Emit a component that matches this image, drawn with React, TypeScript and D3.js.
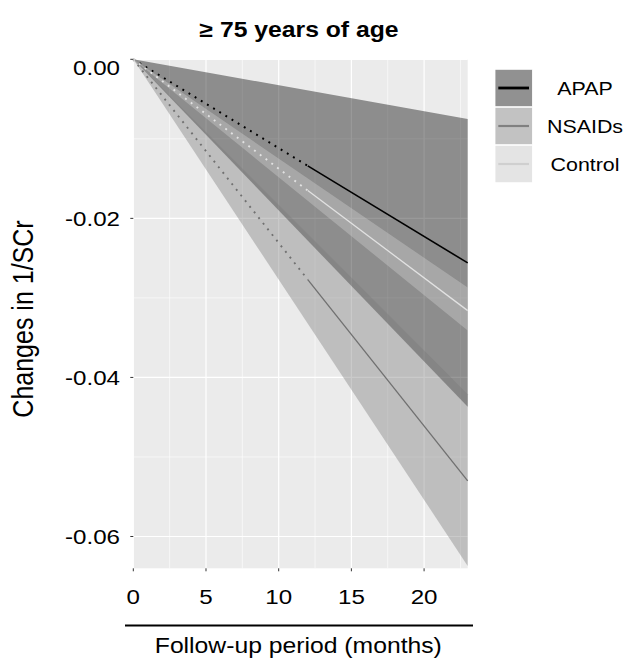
import React, { useRef, useEffect } from 'react'
import * as d3 from 'd3'

// fitted lines (months -> change in 1/SCr); dotted before month 12, solid after
const lineMonths = [0, 12, 23]
const apapMean = [0, -0.0134, -0.0256]
const nsaidMean = [0, -0.0277, -0.053]
const controlMean = [0, -0.0165, -0.0316]

// confidence bands
const bandMonths = [0, 23]
const apapLower = [0, -0.0437]
const apapUpper = [0, -0.0075]
const nsaidLower = [0, -0.0637]
const nsaidUpper = [0, -0.0421]
const controlLower = [0, -0.0341]
const controlUpper = [0, -0.0287]

const groups = ['APAP', 'NSAIDs', 'Control']
const xTicks = [0, 5, 10, 15, 20]
const xMinor = [2.5, 7.5, 12.5, 17.5, 22.5]
const yTicks = [0, -0.02, -0.04, -0.06]
const yMinor = [-0.01, -0.03, -0.05]

const W = 629
const H = 660
const FONT = '"Liberation Sans", Arial, sans-serif'
const STRETCH = 1.15

export default function App() {
  const ref = useRef<SVGSVGElement>(null)

  useEffect(() => {
    draw()
  }, [])

  const draw = () => {
    const svg = d3.select(ref.current)
    svg.selectAll('*').remove()

    const x = d3.scaleLinear().domain([0, 23]).range([133.3, 467.7])
    const y = d3.scaleLinear().domain([-0.064, 0]).range([568.3, 59.3])

    const styles = {
      APAP: { band: 'rgba(0,0,0,0.4)', line: '#000000', lw: 1.6, keyLw: 2.8, key: '#000' },
      NSAIDs: { band: 'rgba(122,122,122,0.4)', line: '#707070', lw: 1.3, keyLw: 2.2, key: '#808080' },
      Control: { band: 'rgba(207,207,207,0.4)', line: '#e2e2e2', lw: 1.3, keyLw: 2.2, key: '#cfcfcf' },
    }

    // text is a bit wider than tall in the original, so stretch it
    const label = (g, tx, ty, str, size, anchor, weight = 'normal', rot = 0) => {
      return g
        .append('g')
        .attr(
          'transform',
          rot
            ? `translate(${tx},${ty}) rotate(${rot}) scale(1,${STRETCH})`
            : `translate(${tx},${ty}) scale(${STRETCH},1)`
        )
        .append('text')
        .attr('font-family', FONT)
        .attr('font-size', size)
        .attr('font-weight', weight)
        .attr('text-anchor', anchor)
        .attr('fill', '#000')
        .text(str)
    }

    // panel
    svg
      .append('rect')
      .attr('x', x(0))
      .attr('y', y(0))
      .attr('width', x(23) - x(0))
      .attr('height', y(-0.064) - y(0))
      .attr('fill', '#ebebeb')

    const grid = svg.append('g')
    const vLines = (vals, w) =>
      grid
        .append('g')
        .selectAll('line')
        .data(vals)
        .join('line')
        .attr('x1', (d) => x(d))
        .attr('x2', (d) => x(d))
        .attr('y1', y(0))
        .attr('y2', y(-0.064))
        .attr('stroke', '#fff')
        .attr('stroke-width', w)
    const hLines = (vals, w) =>
      grid
        .append('g')
        .selectAll('line')
        .data(vals)
        .join('line')
        .attr('x1', x(0))
        .attr('x2', x(23))
        .attr('y1', (d) => y(d))
        .attr('y2', (d) => y(d))
        .attr('stroke', '#fff')
        .attr('stroke-width', w)
    vLines(xMinor, 0.6)
    hLines(yMinor, 0.6)
    vLines(xTicks, 1.2)
    hLines(yTicks, 1.2)

    // bands
    const area = d3
      .area()
      .x((d) => x(d[0]))
      .y0((d) => y(d[1]))
      .y1((d) => y(d[2]))
    const bands = [
      ['APAP', apapLower, apapUpper],
      ['NSAIDs', nsaidLower, nsaidUpper],
      ['Control', controlLower, controlUpper],
    ]
    bands.forEach(([name, lo, hi]) => {
      const pts = bandMonths.map((m, i) => [m, lo[i], hi[i]])
      svg.append('path').attr('d', area(pts)).attr('fill', styles[name].band)
    })

    // lines
    const line = d3
      .line()
      .x((d) => x(d[0]))
      .y((d) => y(d[1]))
    const means = [
      ['APAP', apapMean],
      ['NSAIDs', nsaidMean],
      ['Control', controlMean],
    ]
    means.forEach(([name, vals]) => {
      const pts = lineMonths.map((m, i) => [m, vals[i]])
      svg
        .append('path')
        .attr('d', line(pts.slice(0, 2)))
        .attr('fill', 'none')
        .attr('stroke', styles[name].line)
        .attr('stroke-width', 1.9)
        .attr('stroke-dasharray', '1.9,5.3')
      svg
        .append('path')
        .attr('d', line(pts.slice(1)))
        .attr('fill', 'none')
        .attr('stroke', styles[name].line)
        .attr('stroke-width', styles[name].lw)
    })

    // axis ticks
    svg
      .append('g')
      .selectAll('line')
      .data(yTicks)
      .join('line')
      .attr('x1', x(0) - 3)
      .attr('x2', x(0))
      .attr('y1', (d) => y(d))
      .attr('y2', (d) => y(d))
      .attr('stroke', '#333')
      .attr('stroke-width', 1)
    svg
      .append('g')
      .selectAll('line')
      .data(xTicks)
      .join('line')
      .attr('x1', (d) => x(d))
      .attr('x2', (d) => x(d))
      .attr('y1', y(-0.064))
      .attr('y2', y(-0.064) + 3)
      .attr('stroke', '#333')
      .attr('stroke-width', 1)

    // tick labels (plain hyphen minus, top label sits a little lower)
    const fmt = (v) => d3.format('.2f')(v).replace('\u2212', '-')
    yTicks.forEach((t) => {
      label(svg, 120, y(t) + 7.6 + (t === 0 ? 8 : 0), fmt(t), 21, 'end')
    })
    xTicks.forEach((t) => {
      label(svg, x(t), 604, String(t), 21, 'middle')
    })

    // axis line under tick labels
    svg
      .append('line')
      .attr('x1', 125)
      .attr('x2', 473)
      .attr('y1', 625.5)
      .attr('y2', 625.5)
      .attr('stroke', '#000')
      .attr('stroke-width', 2)

    // titles
    label(svg, 299, 37, '\u2265 75 years of age', 21.5, 'middle', 'bold')
    label(svg, 298.3, 653, 'Follow-up period (months)', 21.5, 'middle')
    label(svg, 33, 319, 'Changes in 1/SCr', 25, 'middle', 'normal', -90)

    // legend
    const keyX = 495
    const keyTop = 69.3
    const keySize = 37.4
    const lg = svg.append('g')
    groups.forEach((name, i) => {
      const ky = keyTop + i * (keySize + 0.6)
      lg.append('rect')
        .attr('x', keyX)
        .attr('y', ky)
        .attr('width', keySize)
        .attr('height', keySize)
        .attr('fill', '#f2f2f2')
      lg.append('rect')
        .attr('x', keyX)
        .attr('y', ky)
        .attr('width', keySize)
        .attr('height', keySize)
        .attr('fill', styles[name].band)
        .attr('stroke', '#fff')
        .attr('stroke-width', 0.8)
      lg.append('line')
        .attr('x1', keyX + 3.3)
        .attr('x2', keyX + 34)
        .attr('y1', ky + keySize / 2)
        .attr('y2', ky + keySize / 2)
        .attr('stroke', styles[name].key)
        .attr('stroke-width', styles[name].keyLw)
      label(lg, 585, ky + keySize / 2 + 6.7, name, 18.6, 'middle')
    })
  }

  return (
    <svg
      ref={ref}
      width={W}
      height={H}
      style={{ position: 'absolute', left: 0, top: 0, background: '#fff' }}
    ></svg>
  )
}
